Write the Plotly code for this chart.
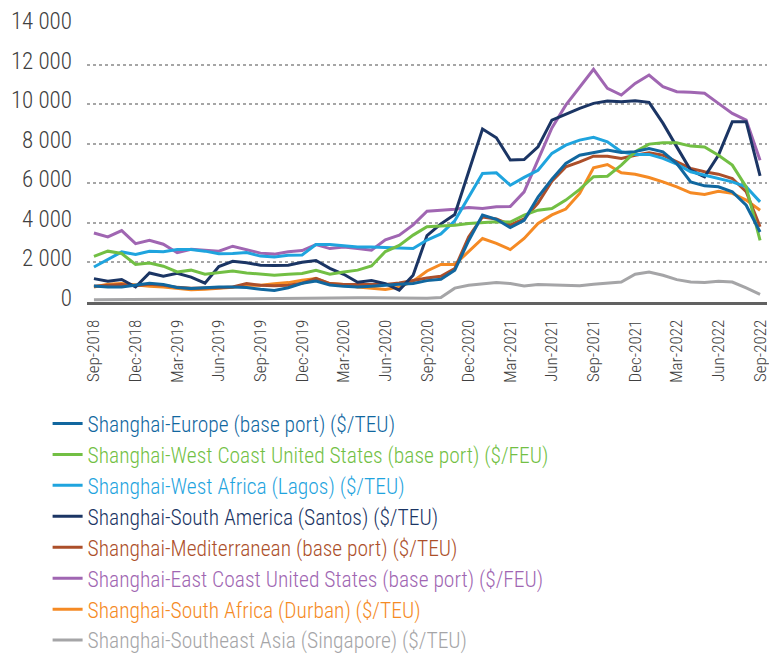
import plotly.graph_objects as go

months = ["Sep-2018","Oct-2018","Nov-2018","Dec-2018","Jan-2019","Feb-2019","Mar-2019","Apr-2019","May-2019",
          "Jun-2019","Jul-2019","Aug-2019","Sep-2019","Oct-2019","Nov-2019","Dec-2019","Jan-2020","Feb-2020",
          "Mar-2020","Apr-2020","May-2020","Jun-2020","Jul-2020","Aug-2020","Sep-2020","Oct-2020","Nov-2020",
          "Dec-2020","Jan-2021","Feb-2021","Mar-2021","Apr-2021","May-2021","Jun-2021","Jul-2021","Aug-2021",
          "Sep-2021","Oct-2021","Nov-2021","Dec-2021","Jan-2022","Feb-2022","Mar-2022","Apr-2022","May-2022",
          "Jun-2022","Jul-2022","Aug-2022","Sep-2022"]

europe = [810, 760, 760, 850, 950, 880, 730, 680, 720, 760, 760, 730, 640, 580, 720, 950, 1060, 860, 790, 760,
          800, 860, 900, 940, 1080, 1150, 1600, 3100, 4390, 4180, 3760, 4130, 5300, 6200, 7000, 7420, 7560, 7680,
          7560, 7600, 7760, 7590, 7000, 6070, 5870, 5820, 5570, 4890, 3540]
west_coast_us = [2310, 2570, 2450, 1900, 1970, 1810, 1520, 1610, 1400, 1480, 1570, 1470, 1400, 1350, 1400, 1440,
                 1600, 1400, 1520, 1610, 1820, 2550, 2860, 3380, 3800, 3830, 3880, 3970, 4030, 4060, 4040, 4390,
                 4640, 4720, 5150, 5690, 6330, 6360, 6920, 7590, 7980, 8050, 8050, 7880, 7840, 7420, 6920, 5820, 3120]
west_africa = [1770, 2170, 2530, 2400, 2560, 2540, 2650, 2650, 2570, 2440, 2450, 2500, 2320, 2280, 2360, 2380,
               2900, 2900, 2840, 2780, 2780, 2750, 2700, 2700, 3130, 3440, 4100, 5310, 6500, 6530, 5900, 6300,
               6660, 7510, 7930, 8180, 8320, 8100, 7590, 7460, 7460, 7260, 6970, 6580, 6410, 6240, 6070, 5820, 5060]
south_america = [1180, 1050, 1140, 760, 1470, 1300, 1450, 1260, 950, 1790, 2060, 1980, 1860, 1840, 1860, 2010,
                 2100, 1700, 1400, 1000, 1080, 930, 600, 1350, 3360, 3950, 4420, 6580, 8740, 8300, 7180, 7200,
                 7840, 9190, 9500, 9790, 10040, 10160, 10120, 10170, 10090, 9040, 7840, 6660, 6330, 7420, 9110,
                 9110, 6380]
mediterranean = [800, 860, 890, 820, 900, 850, 740, 700, 700, 720, 760, 930, 850, 820, 850, 950, 1200, 930, 880,
                 880, 880, 880, 960, 1100, 1210, 1300, 1690, 3290, 4300, 4200, 3900, 4200, 5000, 6100, 6830, 7080,
                 7370, 7370, 7250, 7420, 7540, 7420, 7080, 6750, 6580, 6460, 6240, 5570, 3800]
east_coast_us = [3490, 3290, 3610, 2950, 3120, 2920, 2490, 2660, 2620, 2570, 2820, 2630, 2470, 2420, 2540, 2600,
                 2900, 2700, 2780, 2700, 2620, 3140, 3380, 3900, 4590, 4640, 4690, 4780, 4720, 4810, 4830, 5570,
                 7200, 8800, 9950, 10880, 11760, 10800, 10460, 11050, 11470, 10880, 10630, 10600, 10550, 10040,
                 9530, 9190, 7170]
south_africa = [760, 900, 930, 850, 800, 760, 680, 620, 640, 690, 740, 850, 850, 920, 980, 1100, 1190, 930, 890,
                760, 700, 630, 750, 1050, 1570, 1900, 1890, 2530, 3210, 2960, 2650, 3210, 3970, 4400, 4700, 5490,
                6780, 6950, 6530, 6460, 6290, 6070, 5820, 5520, 5430, 5600, 5490, 5150, 4640]
southeast_asia = [110, 120, 130, 130, 140, 140, 140, 150, 150, 150, 160, 170, 180, 190, 200, 210, 220, 220, 220,
                  220, 210, 200, 180, 170, 190, 230, 700, 850, 930, 980, 930, 810, 880, 850, 820, 820, 900, 960,
                  1010, 1400, 1520, 1350, 1130, 1010, 980, 1050, 1010, 710, 390]

series = [
    ("Shanghai-Europe (base port) ($/TEU)", europe, "#11679f"),
    ("Shanghai-West Coast United States (base port) ($/FEU)", west_coast_us, "#72bf44"),
    ("Shanghai-West Africa (Lagos) ($/TEU)", west_africa, "#1fa4de"),
    ("Shanghai-South America (Santos) ($/TEU)", south_america, "#1b3564"),
    ("Shanghai-Mediterranean (base port) ($/TEU)", mediterranean, "#ac4f2a"),
    ("Shanghai-East Coast United States (base port) ($/FEU)", east_coast_us, "#a066b2"),
    ("Shanghai-South Africa (Durban) ($/TEU)", south_africa, "#f58a24"),
    ("Shanghai-Southeast Asia (Singapore) ($/TEU)", southeast_asia, "#a5a5a7"),
]

y_ticks = [0, 2000, 4000, 6000, 8000, 10000, 12000, 14000]

FONT = "Roboto Condensed, Liberation Sans Narrow, DejaVu Sans Condensed, Roboto, sans-serif"

x_idx = list(range(len(months)))
names = [s[0] for s in series]
fig = go.Figure()
# draw in reverse so Europe is on top
for name, vals, col in reversed(series):
    rank = names.index(name) + 1
    fig.add_trace(go.Scatter(
        x=x_idx, y=vals, mode="lines",
        line=dict(color=col, width=3),
        name=f"<span style='color:{col}'>{name}</span>",
        legendrank=rank, legendgroup=f"g{rank}",
    ))

tick_pos = x_idx[::3]
tick_txt = months[::3]

fig.update_layout(
    width=769, height=656,
    margin=dict(l=87, r=2, t=25, b=354, autoexpand=False),
    paper_bgcolor="white", plot_bgcolor="white",
    font=dict(family=FONT, color="#404040", weight=300),
    separators=". ",
    showlegend=True,
    legend=dict(
        orientation="v", xref="container", yref="container",
        x=0.0619, y=0.3857, xanchor="left", yanchor="top",
        font=dict(size=21.5, family=FONT, weight=300),
        traceorder="grouped", tracegroupgap=0, itemwidth=30, bgcolor="rgba(0,0,0,0)",
    ),
    xaxis=dict(
        range=[-0.5, len(months) - 0.5],
        tickmode="array", tickvals=tick_pos, ticktext=tick_txt,
        tickangle=-90, tickfont=dict(size=17, color="#404040", weight=300),
        showgrid=False, zeroline=False,
        showline=True, linecolor="#616161", linewidth=3,
        ticks="", ticklabelstandoff=8, ticklabeloverflow="allow",
    ),
    yaxis=dict(
        range=[0, 14000], tickvals=y_ticks, tickformat=",d",
        tickfont=dict(size=23, color="#404040", weight=300),
        showgrid=True, gridcolor="#a6a6a6", griddash="dot", gridwidth=1.5,
        zeroline=False, showline=False, ticks="", ticklabelstandoff=14, ticklabelshift=-4,
    ),
)

fig.write_html("out.html", config={"displayModeBar": False},
               post_script="document.body.style.margin='0px';")
